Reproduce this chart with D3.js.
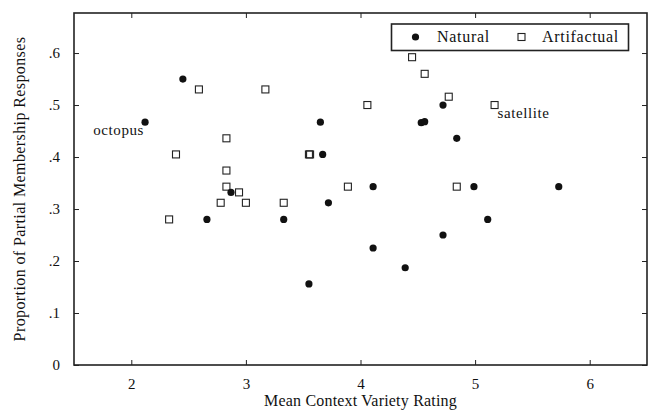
<!DOCTYPE html>
<html>
<head>
<meta charset="utf-8">
<script src="https://cdn.jsdelivr.net/npm/d3@7"></script>
<style>
	body { margin: 0; background: white; }
	svg text { font-family: "Liberation Serif", "DejaVu Serif", serif; fill: #111; }
</style>
</head>
<body>
<div id="chart"></div>
<script>
// values
var naturalX = [2.45, 2.12, 2.87, 2.66, 4.72, 3.65, 4.53, 4.56, 4.84, 3.67, 4.11, 4.99, 5.73, 3.72, 3.33, 3.55, 4.11, 4.39, 4.72, 5.11];
var naturalY = [0.55, 0.467, 0.332, 0.28, 0.5, 0.467, 0.466, 0.468, 0.436, 0.405, 0.343, 0.343, 0.343, 0.312, 0.28, 0.156, 0.225, 0.187, 0.25, 0.28];

var artifactX = [2.59, 3.17, 2.83, 2.39, 2.83, 2.83, 2.94, 2.78, 3.0, 2.33, 4.45, 4.56, 4.77, 4.06, 3.55, 3.56, 3.89, 4.84, 5.17, 3.33];
var artifactY = [0.53, 0.53, 0.436, 0.405, 0.374, 0.343, 0.332, 0.312, 0.312, 0.28, 0.592, 0.56, 0.516, 0.5, 0.405, 0.405, 0.343, 0.343, 0.5, 0.312];

var xTicks = [2, 3, 4, 5, 6];
var yTicks = [0, 0.1, 0.2, 0.3, 0.4, 0.5, 0.6];

var labelNames = ["octopus", "satellite"];
var labelX = [2.12, 5.17];
var labelY = [0.467, 0.5];
var labelSide = ["left", "right"];

var seriesNames = ["Natural", "Artifactual"];

var width = 649, height = 410;
var margin = { left: 74, right: 2, top: 13, bottom: 45 };

var svg = d3.select("#chart")
	.append("svg")
	.attr("width", width)
	.attr("height", height);

var x = d3.scaleLinear()
	.domain([1.5, 6.5])
	.range([margin.left, width - margin.right]);

var y = d3.scaleLinear()
	.domain([0, 0.677])
	.range([height - margin.bottom, margin.top]);

function yFormat(d) {
	return d === 0 ? "0" : d3.format(".1f")(d).replace(/^0/, "");
}

// axes, ticks pointing inward
svg.append("g")
	.attr("class", "axis")
	.attr("transform", "translate(0," + y(0) + ")")
	.call(d3.axisBottom(x).tickValues(xTicks).tickSize(-5).tickPadding(13).tickFormat(d3.format("d")));

svg.append("g")
	.attr("class", "axis")
	.attr("transform", "translate(0," + margin.top + ")")
	.call(d3.axisTop(x).tickValues(xTicks).tickSize(-5).tickFormat(""));

svg.append("g")
	.attr("class", "axis")
	.attr("transform", "translate(" + margin.left + ",0)")
	.call(d3.axisLeft(y).tickValues(yTicks).tickSize(-5).tickPadding(14).tickFormat(yFormat));

svg.append("g")
	.attr("class", "axis")
	.attr("transform", "translate(" + (width - margin.right) + ",0)")
	.call(d3.axisRight(y).tickValues(yTicks).tickSize(-5).tickFormat(""));

svg.selectAll(".axis path.domain").remove();
svg.selectAll(".axis line").attr("stroke", "#222").attr("stroke-width", 1);
svg.selectAll(".axis text")
	.style("font-family", "'Liberation Serif', serif")
	.style("font-size", "15px")
	.attr("fill", "#111");

// frame
svg.append("rect")
	.attr("x", x(1.5))
	.attr("y", y(0.677))
	.attr("width", x(6.5) - x(1.5))
	.attr("height", y(0) - y(0.677))
	.attr("fill", "none")
	.attr("stroke", "#222")
	.attr("stroke-width", 1.6);

// axis titles
svg.append("text")
	.attr("x", (x(1.5) + x(6.5)) / 2)
	.attr("y", 406)
	.attr("text-anchor", "middle")
	.style("font-size", "16px")
	.style("letter-spacing", "0.2px")
	.text("Mean Context Variety Rating");

svg.append("text")
	.attr("transform", "translate(25," + (y(0) + y(0.677)) / 2 + ") rotate(-90)")
	.attr("text-anchor", "middle")
	.style("font-size", "16px")
	.style("letter-spacing", "0.4px")
	.text("Proportion of Partial Membership Responses");

// points
var naturalData = naturalX.map((d, i) => ({ x: d, y: naturalY[i] }));
var artifactData = artifactX.map((d, i) => ({ x: d, y: artifactY[i] }));

svg.append("g")
	.selectAll("rect")
	.data(artifactData)
	.join("rect")
	.attr("x", (d) => x(d.x) - 3.5)
	.attr("y", (d) => y(d.y) - 3.5)
	.attr("width", 7)
	.attr("height", 7)
	.attr("fill", "white")
	.attr("fill-opacity", 0)
	.attr("stroke", "#222")
	.attr("stroke-width", 1.1);

svg.append("g")
	.selectAll("circle")
	.data(naturalData)
	.join("circle")
	.attr("cx", (d) => x(d.x))
	.attr("cy", (d) => y(d.y))
	.attr("r", 3.6)
	.attr("fill", "#111");

// point labels
svg.append("g")
	.selectAll("text")
	.data(labelNames)
	.join("text")
	.attr("x", (d, i) => labelSide[i] == "left" ? x(labelX[i]) - 1 : x(labelX[i]) + 3)
	.attr("y", (d, i) => y(labelY[i]) + 13)
	.attr("text-anchor", (d, i) => labelSide[i] == "left" ? "end" : "start")
	.style("font-size", "15px")
	.style("letter-spacing", "0.6px")
	.text((d) => d);

// legend
var legend = svg.append("g");
legend.append("rect")
	.attr("x", 391.5)
	.attr("y", 24)
	.attr("width", 237)
	.attr("height", 26.5)
	.attr("fill", "white")
	.attr("stroke", "#222")
	.attr("stroke-width", 1.6);

legend.append("circle")
	.attr("cx", 415.5)
	.attr("cy", 37)
	.attr("r", 3.6)
	.attr("fill", "#111");

legend.append("rect")
	.attr("x", 518)
	.attr("y", 33.5)
	.attr("width", 7)
	.attr("height", 7)
	.attr("fill", "none")
	.attr("stroke", "#222")
	.attr("stroke-width", 1.1);

legend.selectAll("text")
	.data(seriesNames)
	.join("text")
	.attr("x", (d, i) => i == 0 ? 437 : 542)
	.attr("y", 42)
	.style("font-size", "16px")
	.style("letter-spacing", "0.7px")
	.text((d) => d);
</script>
</body>
</html>
